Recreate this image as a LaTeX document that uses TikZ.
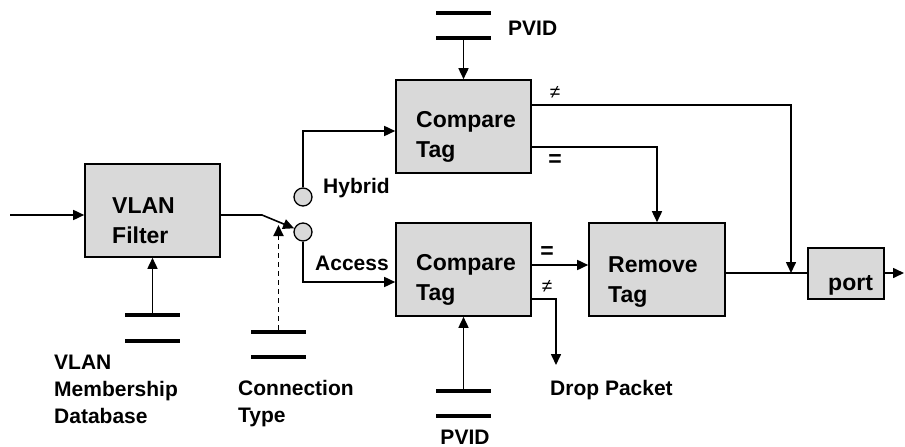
\documentclass[tikz,border=0pt]{standalone}
\usepackage{fontspec}
\setmainfont{Liberation Sans}
\usetikzlibrary{arrows.meta}
\definecolor{boxgray}{HTML}{D9D9D9}
\begin{document}
\begin{tikzpicture}[x=1pt,y=-1pt,
  box/.style={draw=black, line width=1.6pt, fill=boxgray, inner sep=0pt},
  boxtxt/.style={anchor=north west, align=left, inner sep=0pt,
    font=\fontsize{23}{30}\selectfont\bfseries},
  lbl/.style={anchor=base west, align=left, inner sep=0pt,
    font=\fontsize{21}{27}\selectfont\bfseries},
  mlbl/.style={lbl, anchor=north west},
  wire/.style={line width=1.6pt},
  arr/.style={wire, -{Triangle[length=11pt,width=10pt]}},
  store/.style={fill=black, minimum width=55pt, minimum height=4.5pt, inner sep=0pt},
  pin/.style={circle, draw=black, line width=1.3pt, fill=boxgray,
    minimum size=18pt, inner sep=0pt},
  neq/.style={inner sep=0pt, font=\fontsize{19}{19}\selectfont},
  eqs/.style={inner sep=0pt, font=\fontsize{23}{23}\selectfont\bfseries}
]
\useasboundingbox (0,0) rectangle (905,447);

% processing blocks
\node[box, minimum width=135pt, minimum height=93pt] (vf)   at (152.5,210.5) {};
\node[box, minimum width=135pt, minimum height=93pt] (cmpH) at (463.5,126.5) {};
\node[box, minimum width=135pt, minimum height=93pt] (cmpA) at (463.5,269.5) {};
\node[box, minimum width=136pt, minimum height=93pt] (rm)   at (657,269.5) {};
\node[box, minimum width=76pt,  minimum height=51pt] (port) at (846,273.5) {};

\node[boxtxt] (vfT)   at (112,197.5) {VLAN\\Filter};
\node[boxtxt] (cmpHT) at (416,111.5) {Compare\\Tag};
\node[boxtxt] (cmpAT) at (416,254.5) {Compare\\Tag};
\node[boxtxt] (rmT)   at (608,256.5) {Remove\\Tag};
\node[anchor=base west, inner sep=0pt, font=\fontsize{23}{30}\selectfont\bfseries]
  (portT) at (828,290) {port};

% switch contacts
\node[pin] (hyb) at (303,197) {};
\node[pin] (acc) at (303,232) {};
\node[lbl] (hybT) at (323,193) {Hybrid};
\node[lbl] (accT) at (315,270) {Access};

% data stores (double bars)
\node[store] (dbA) at (152.5,315) {};
\node[store] (dbB) at (152.5,341) {};
\node[store] (ctA) at (278.5,332) {};
\node[store] (ctB) at (278.5,357) {};
\node[store] (pvHa) at (463.5,13) {};
\node[store] (pvHb) at (463.5,38) {};
\node[store] (pvAa) at (463.5,391) {};
\node[store] (pvAb) at (463.5,416) {};

\node[mlbl] (dbT) at (54,355) {VLAN\\Membership\\Database};
\node[mlbl] (ctT) at (238,380) {Connection\\Type};
\node[lbl] (pvHT) at (508,35) {PVID};
\node[lbl, anchor=base] (pvAT) at (465,444) {PVID};
\node[lbl] (dropT) at (550,395) {Drop Packet};

% comparison result marks
\node[neq] (neH) at (555,92) {≠};
\node[eqs] (eqH) at (555,161) {=};
\node[eqs] (eqA) at (547,253) {=};
\node[neq] (neA) at (547,286) {≠};

% helper points
\coordinate (in)   at (10,215);
\coordinate (sw)   at (262,215);
\coordinate (ctTip) at (278.5,225);
\coordinate (yH)   at (0,131);
\coordinate (yA)   at (0,282);
\coordinate (yNeH) at (0,105);
\coordinate (yEqH) at (0,147);
\coordinate (yEqA) at (0,265);
\coordinate (yNeA) at (0,299);
\coordinate (yOut) at (0,273);
\coordinate (join) at (791,273);
\coordinate (drop) at (556,365);
\coordinate (out)  at (904,273);

% connectors
\draw[arr] (in) -- (in -| vf.west);
\draw[arr] (vf.east |- in) -- (sw) -- (acc);
\draw[arr, line width=1.8pt, dash pattern=on 5pt off 4pt] (ctA.north) -- (ctTip);
\draw[arr] (dbA.north) -- (vf.south);
\draw[arr] (hyb.north) |- (cmpH.west |- yH);
\draw[arr] (acc.south) |- (cmpA.west |- yA);
\draw[arr] (pvHb.south) -- (cmpH.north);
\draw[arr] (pvAa.north) -- (cmpA.south);
\draw[arr] (cmpH.east |- yNeH) -| (join);
\draw[arr] (cmpH.east |- yEqH) -| (rm.north);
\draw[arr] (cmpA.east |- yEqA) -- (rm.west |- yEqA);
\draw[arr] (cmpA.east |- yNeA) -| (drop);
\draw[wire] (rm.east |- yOut) -- (port.west |- yOut);
\draw[arr] (port.east |- yOut) -- (out);
\end{tikzpicture}
\end{document}
